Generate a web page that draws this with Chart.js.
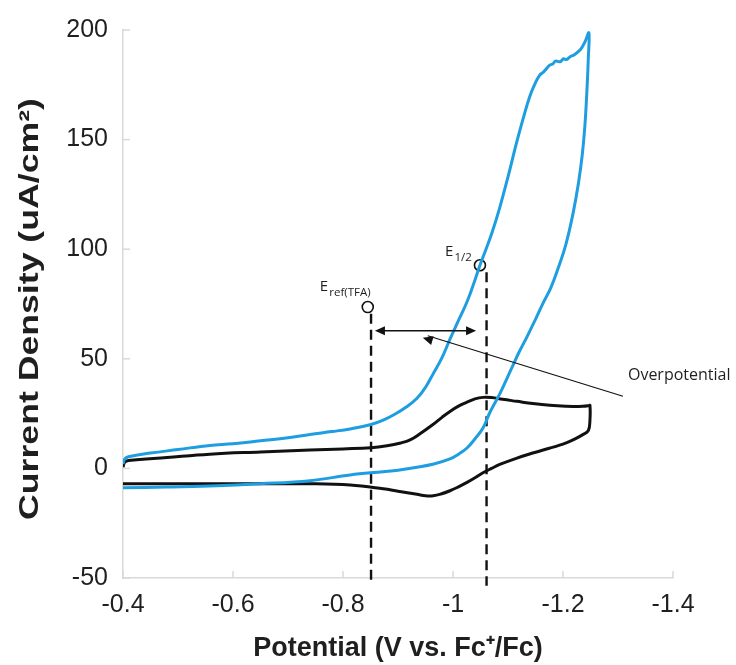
<!DOCTYPE html>
<html>
<head>
<meta charset="utf-8">
<script src="https://cdn.jsdelivr.net/npm/chart.js@4.4.1/dist/chart.umd.min.js"></script>
<style>
  html, body { margin: 0; padding: 0; background: #fff; }
  #wrap { width: 736px; height: 665px; }
</style>
</head>
<body>
<div id="wrap"><canvas id="cv"></canvas></div>
<script>
// Cyclic voltammograms: with acid (blue) and without (black)
const blueE = [-0.400, -0.403, -0.41, -0.45, -0.50, -0.558, -0.60, -0.65, -0.70, -0.74, -0.78, -0.813, -0.851, -0.873, -0.895, -0.915, -0.9345, -0.95, -0.9636, -0.98, -0.9945, -1.01, -1.0255, -1.04, -1.049, -1.06, -1.071, -1.085, -1.10, -1.115, -1.128, -1.14, -1.15, -1.158, -1.163, -1.168, -1.176, -1.182, -1.186, -1.195, -1.201, -1.206, -1.213, -1.219, -1.225, -1.233, -1.24, -1.247,
  -1.246, -1.244, -1.24, -1.235, -1.228, -1.218, -1.205, -1.19, -1.178, -1.164, -1.15, -1.1345, -1.12, -1.109, -1.098, -1.085, -1.067, -1.0545, -1.04, -1.0255, -1.01, -0.9945, -0.965, -0.9345, -0.90, -0.873, -0.813, -0.74, -0.65, -0.558, -0.48, -0.40];
const blueI = [2, 4.2, 5.3, 7, 8.6, 10.5, 11.2, 12.6, 14, 15.5, 16.8, 18, 20, 22, 24.8, 28, 32, 37, 43, 50.5, 59, 67.5, 76, 86, 92.7, 100, 107.6, 119, 133, 148, 160, 170, 176, 179.5, 180.5, 181.8, 184, 184.6, 185.8, 185.5, 186.9, 186.5, 187.8, 188.5, 189.6, 191.5, 194.6, 198.7,
  187, 175, 157, 143, 130, 116, 102, 90.5, 82.5, 75.5, 68, 60, 53, 47, 41, 34, 25.5, 18.4, 13.5, 9.3, 6.5, 4.3, 2, 0.5, -0.8, -1.5, -3, -5.6, -7, -8, -8.5, -8.8];

const blackE = [-0.400, -0.403, -0.41, -0.48, -0.558, -0.65, -0.74, -0.80, -0.851, -0.88, -0.905, -0.922, -0.94, -0.9636, -0.98, -0.9945, -1.01, -1.0255, -1.04, -1.0545, -1.07, -1.09, -1.116, -1.145, -1.176, -1.205, -1.236, -1.247, -1.249,
  -1.249, -1.246, -1.236, -1.222, -1.207, -1.19, -1.175, -1.145, -1.115, -1.085, -1.07, -1.0545, -1.04, -1.0255, -1.01, -0.9945, -0.978, -0.964, -0.95, -0.9345, -0.90, -0.873, -0.813, -0.74, -0.65, -0.558, -0.48, -0.40];
const blackI = [0.5, 2.8, 3.6, 5, 6.5, 7.5, 8.4, 8.9, 9.4, 10.3, 11.6, 13, 15.8, 20, 23.3, 26, 28.4, 30.2, 31.7, 32.4, 32.3, 31.5, 30.6, 29.6, 28.8, 28.4, 28.3, 28.6, 28.8,
  22, 17.2, 15.4, 13.5, 11.8, 10.3, 9.2, 7, 4.6, 1.8, 0, -2, -4.3, -6.4, -8.4, -10.2, -11.7, -12.5, -12.5, -11.8, -10.4, -9.3, -7.6, -7, -7, -7, -7, -7];

// axis ticks
const xTicks = [-0.4, -0.6, -0.8, -1, -1.2, -1.4];
const yTicks = [-50, 0, 50, 100, 150, 200];

// annotation positions (V, uA/cm2)
const eRef = [-0.845, 73.6];
const eHalf = [-1.049, 92.7];
const dashRefE = [-0.851, -0.851];
const dashRefI = [70.5, -53.5];
const dashHalfE = [-1.061, -1.061];
const dashHalfI = [89.5, -53.5];
const overArrowE = [-0.858, -1.042];
const overArrowI = [62.8, 62.8];
const pointerE = [-1.309, -0.945];
const pointerI = [32.9, 59.6];

const BLUE = '#1e9ee0';
const GRID = '#d9d9d9';
const TXT = '#1f1f1f';
const FONT = '"Liberation Sans", Arial, sans-serif';
const Y_TITLE = 'Current Density (uA/cm\u00B2)';

function pairs(xs, ys) {
  return xs.map((x, i) => ({ x: x, y: ys[i] }));
}

function arrowHead(ctx, x1, y1, x2, y2, len) {
  const a = Math.atan2(y2 - y1, x2 - x1);
  ctx.beginPath();
  ctx.moveTo(x2, y2);
  ctx.lineTo(x2 - len * Math.cos(a - 0.42), y2 - len * Math.sin(a - 0.42));
  ctx.lineTo(x2 - len * Math.cos(a + 0.42), y2 - len * Math.sin(a + 0.42));
  ctx.closePath();
  ctx.fill();
}

// inside tick marks, arrows, y title and the annotation texts
const annotations = {
  id: 'annotations',
  afterDraw(chart) {
    const ctx = chart.ctx;
    const xs = chart.scales.x, ys = chart.scales.y;
    const area = chart.chartArea;
    ctx.save();

    ctx.strokeStyle = GRID;
    ctx.lineWidth = 1.5;
    xTicks.forEach(v => {
      const px = xs.getPixelForValue(v);
      ctx.beginPath(); ctx.moveTo(px, area.bottom); ctx.lineTo(px, area.bottom - 7); ctx.stroke();
    });
    yTicks.forEach(v => {
      const py = ys.getPixelForValue(v);
      ctx.beginPath(); ctx.moveTo(area.left, py); ctx.lineTo(area.left + 7, py); ctx.stroke();
    });

    // y title, drawn wide along its length
    ctx.save();
    ctx.translate(31, (area.top + area.bottom) / 2 + 5);
    ctx.rotate(-Math.PI / 2);
    ctx.scale(1.32, 1);
    ctx.fillStyle = TXT;
    ctx.textAlign = 'center';
    ctx.textBaseline = 'middle';
    ctx.font = 'bold 27px ' + FONT;
    ctx.fillText(Y_TITLE, 0, 0);
    ctx.restore();

    ctx.strokeStyle = '#111';
    ctx.fillStyle = '#111';
    ctx.lineWidth = 1.5;
    // double headed arrow between the two potentials
    const ax1 = xs.getPixelForValue(overArrowE[0]), ay1 = ys.getPixelForValue(overArrowI[0]);
    const ax2 = xs.getPixelForValue(overArrowE[1]), ay2 = ys.getPixelForValue(overArrowI[1]);
    ctx.beginPath(); ctx.moveTo(ax1 + 6, ay1); ctx.lineTo(ax2 - 6, ay2); ctx.stroke();
    arrowHead(ctx, ax2, ay2, ax1, ay1, 11);
    arrowHead(ctx, ax1, ay1, ax2, ay2, 11);

    // pointer from the label
    const px1 = xs.getPixelForValue(pointerE[0]), py1 = ys.getPixelForValue(pointerI[0]);
    const px2 = xs.getPixelForValue(pointerE[1]), py2 = ys.getPixelForValue(pointerI[1]);
    ctx.lineWidth = 1.2;
    ctx.beginPath(); ctx.moveTo(px1, py1); ctx.lineTo(px2 + 5, py2 - 2); ctx.stroke();
    arrowHead(ctx, px1, py1, px2, py2, 11);

    ctx.fillStyle = TXT;
    ctx.textBaseline = 'alphabetic';
    ctx.textAlign = 'left';
    ctx.font = '16px "Open Sans", sans-serif';
    ctx.fillText('Overpotential', px1 + 5, py1 - 16);

    // E labels with subscripts
    let lx = xs.getPixelForValue(eRef[0]) - 48, ly = ys.getPixelForValue(eRef[1]) - 16;
    ctx.font = '15px "Open Sans", sans-serif';
    ctx.fillText('E', lx, ly);
    ctx.font = '11.5px "Open Sans", sans-serif';
    ctx.fillText('ref(TFA)', lx + 9.5, ly + 5);

    lx = xs.getPixelForValue(eHalf[0]) - 35; ly = ys.getPixelForValue(eHalf[1]) - 9;
    ctx.font = '15px "Open Sans", sans-serif';
    ctx.fillText('E', lx, ly);
    ctx.font = '11.5px "Open Sans", sans-serif';
    ctx.fillText('1/2', lx + 9.5, ly + 5);

    ctx.restore();
  }
};

const dashStyle = {
  borderColor: '#111',
  borderWidth: 2.4,
  borderDash: [10, 6],
  pointRadius: 0,
  showLine: true,
  clip: false
};

new Chart(document.getElementById('cv'), {
  type: 'scatter',
  data: {
    datasets: [
      {
        data: pairs(blueE, blueI),
        showLine: true,
        borderColor: BLUE,
        borderWidth: 3,
        pointRadius: 0,
        tension: 0.4
      },
      {
        data: pairs(blackE, blackI),
        showLine: true,
        borderColor: '#111',
        borderWidth: 3,
        pointRadius: 0,
        tension: 0.4
      },
      Object.assign({ data: pairs(dashRefE, dashRefI) }, dashStyle),
      Object.assign({ data: pairs(dashHalfE, dashHalfI) }, dashStyle),
      {
        data: [{ x: eRef[0], y: eRef[1] }, { x: eHalf[0], y: eHalf[1] }],
        pointRadius: 5.5,
        pointBorderWidth: 1.6,
        pointBorderColor: '#111',
        pointBackgroundColor: 'rgba(255,255,255,0)',
        showLine: false,
        clip: false
      }
    ]
  },
  options: {
    responsive: true,
    maintainAspectRatio: false,
    animation: false,
    events: [],
    layout: {
      padding: { top: 26, right: 63, left: 0, bottom: 0 }
    },
    plugins: {
      legend: { display: false },
      tooltip: { enabled: false }
    },
    scales: {
      x: {
        type: 'linear',
        reverse: true,
        min: -1.4,
        max: -0.4,
        afterFit: function(scale) { scale.height = 87; },
        afterBuildTicks: function(scale) { scale.ticks = xTicks.map(v => ({ value: v })); },
        grid: { display: false, drawTicks: false },
        border: { display: true, color: GRID, width: 1.5 },
        ticks: {
          padding: 12,
          color: TXT,
          font: { size: 25, family: FONT },
          callback: function(value) { return String(parseFloat(value.toFixed(1))); }
        },
        title: {
          display: true,
          text: 'Potential (V vs. Fc\u207A/Fc)',
          color: TXT,
          padding: { top: 0, bottom: 0 },
          font: { size: 27, weight: 'bold', family: FONT }
        }
      },
      y: {
        type: 'linear',
        min: -50,
        max: 200,
        afterFit: function(scale) { scale.width = 123; },
        afterBuildTicks: function(scale) { scale.ticks = yTicks.map(v => ({ value: v })); },
        grid: { display: false, drawTicks: false },
        border: { display: true, color: GRID, width: 1.5 },
        ticks: {
          padding: 15,
          color: TXT,
          font: { size: 25, family: FONT }
        },
        title: { display: false }
      }
    }
  },
  plugins: [annotations]
});
</script>
</body>
</html>
